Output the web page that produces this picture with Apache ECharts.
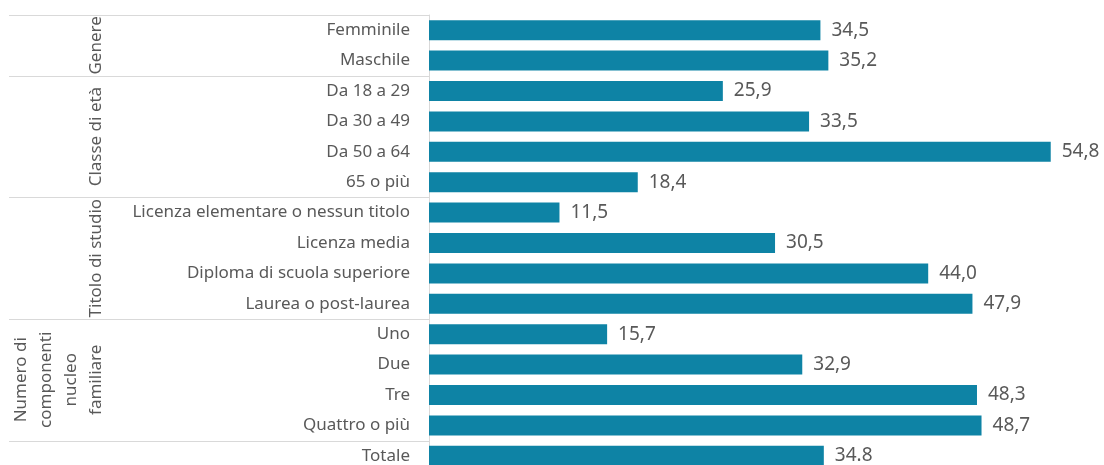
<!DOCTYPE html>
<html>
<head>
<meta charset="utf-8">
<script src="https://cdn.jsdelivr.net/npm/echarts@6/dist/echarts.min.js"></script>
<style>
  html, body { margin: 0; padding: 0; background: #fff; }
  #chart { width: 1104px; height: 465px; }
</style>
</head>
<body>
<div id="chart"></div>
<script>
const categories = [
    'Femminile', 'Maschile',
    'Da 18 a 29', 'Da 30 a 49', 'Da 50 a 64', '65 o più',
    'Licenza elementare o nessun titolo', 'Licenza media', 'Diploma di scuola superiore', 'Laurea o post-laurea',
    'Uno', 'Due', 'Tre', 'Quattro o più',
    'Totale'
];
const values = [34.5, 35.2, 25.9, 33.5, 54.8, 18.4, 11.5, 30.5, 44.0, 47.9, 15.7, 32.9, 48.3, 48.7, 34.8];
const groupNames = ['Genere', 'Classe di età', 'Titolo di studio', 'Numero di\ncomponenti\nnucleo\nfamiliare', ''];
const groupSizes = [2, 4, 4, 4, 1];

const textColor = '#595959';
const lineColor = '#d9d9d9';
const font = 'Noto Sans';

var myChart = echarts.init(document.getElementById('chart'));
var option = {
    animation: false,
    grid: { left: 429, top: 15, width: 624, height: 456, outerBoundsMode: 'none' },
    xAxis: {
        type: 'value',
        min: 0,
        max: 55,
        show: false
    },
    yAxis: {
        type: 'category',
        data: categories,
        inverse: true,
        axisLine: { show: true, lineStyle: { color: lineColor } },
        axisTick: { show: false },
        axisLabel: { color: textColor, fontSize: 17, fontFamily: font, margin: 19 }
    },
    series: [
        {
            type: 'bar',
            data: values,
            barWidth: 20,
            itemStyle: { color: '#0E83A5' },
            label: {
                show: true,
                position: 'right',
                distance: 11,
                color: textColor,
                fontSize: 19,
                fontFamily: font,
                formatter: function (p) {
                    var s = p.value.toFixed(1);
                    return p.name === 'Totale' ? s : s.replace('.', ',');
                }
            }
        }
    ]
};
myChart.setOption(option);

// group separators and rotated group labels, placed from the category axis
function drawGroups() {
    var band = 456 / categories.length;
    var axisX = myChart.convertToPixel({ xAxisIndex: 0 }, 0);
    var elements = [];
    var idx = 0;
    for (let g = 0; g < groupSizes.length; g++) {
        var yTop = myChart.convertToPixel({ yAxisIndex: 0 }, categories[idx]) - band / 2;
        var yBottom = yTop + band * groupSizes[g];
        var yLine = Math.round(yTop) + 0.5;
        elements.push({
            type: 'line',
            shape: { x1: 9, y1: yLine, x2: axisX, y2: yLine },
            style: { stroke: lineColor, lineWidth: 1 }
        });
        if (groupNames[g]) {
            elements.push({
                type: 'text',
                x: 108.5,
                y: (yTop + yBottom) / 2,
                rotation: Math.PI / 2,
                style: {
                    text: groupNames[g],
                    fill: textColor,
                    fontSize: 17,
                    fontFamily: font,
                    lineHeight: 25,
                    align: 'center',
                    verticalAlign: 'bottom'
                }
            });
        }
        idx += groupSizes[g];
    }
    myChart.setOption({ graphic: elements });
}
drawGroups();

window.addEventListener('resize', function () {
    myChart.resize();
    drawGroups();
});
</script>
</body>
</html>
